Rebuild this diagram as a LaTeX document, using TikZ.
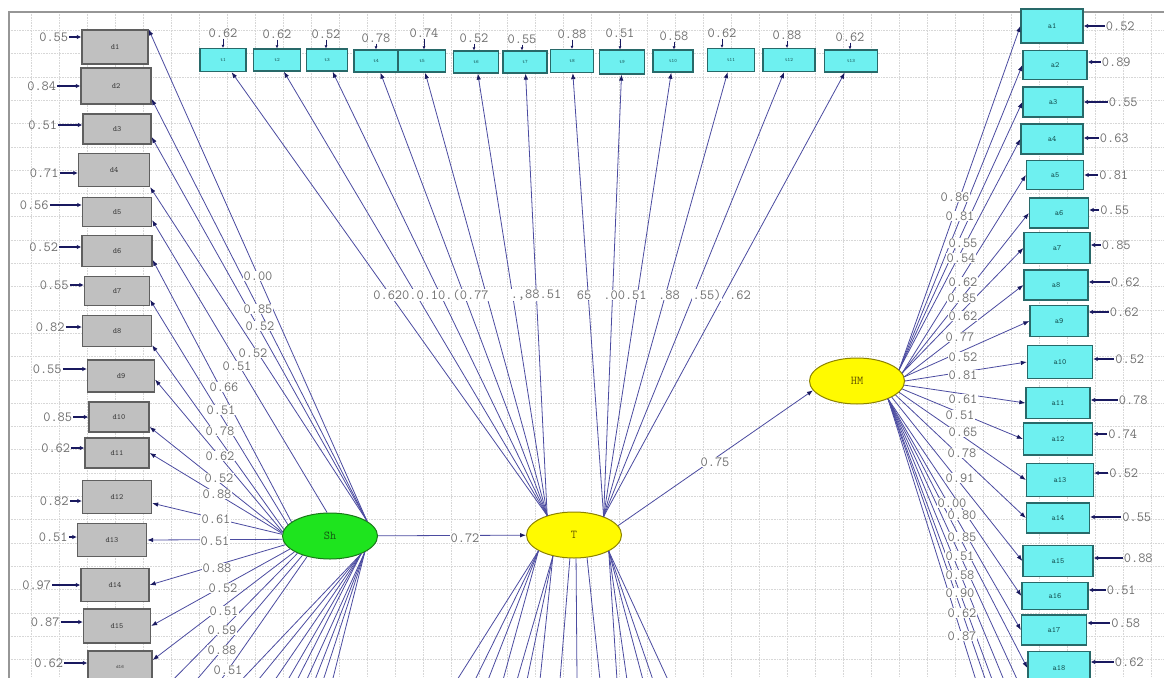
\documentclass[tikz,border=0pt]{standalone}
\usepackage{fontspec}
\usetikzlibrary{arrows.meta,shapes.geometric,calc}
\definecolor{linec}{RGB}{75,75,160}
\definecolor{arrc}{RGB}{25,25,95}
\definecolor{grayfill}{RGB}{192,192,192}
\definecolor{grayedge}{RGB}{95,95,95}
\definecolor{cyanfill}{RGB}{110,240,240}
\definecolor{cyanedge}{RGB}{40,105,105}
\definecolor{cyantext}{RGB}{20,80,80}
\definecolor{boxtext}{RGB}{60,60,60}
\definecolor{shgreen}{RGB}{30,228,30}
\definecolor{shedge}{RGB}{25,120,25}
\definecolor{shtext}{RGB}{20,90,20}
\definecolor{yel}{RGB}{255,250,0}
\definecolor{yeledge}{RGB}{140,130,0}
\definecolor{yeltext}{RGB}{100,85,0}
\definecolor{lblc}{RGB}{110,110,110}
\definecolor{gridc}{RGB}{215,215,215}
\definecolor{framec}{RGB}{150,150,150}
\newcommand\mkD[6]{\node[dbox,minimum width=#4,minimum height=#5] (#1) at (#2,#3) {#6};}
\newcommand\mkA[6]{\node[abox,minimum width=#4,minimum height=#5] (#1) at (#2,#3) {#6};}
\newcommand\mkT[6]{\node[tbox,minimum width=#4,minimum height=#5] (#1) at (#2,#3) {#6};}
\newcommand\errLft[4]{\node[lbl,anchor=east] (e#1) at ($(#1.west)+(-#3,#4)$) {#2}; \draw[errarr] (e#1) -- (e#1 -| #1.west);}
\newcommand\errRgt[4]{\node[lbl,anchor=west] (e#1) at ($(#1.east)+(#3,#4)$) {#2}; \draw[errarr] (e#1) -- (e#1 -| #1.east);}
\newcommand\errTop[3]{\node[lbl] (e#1) at (#3) {#2}; \draw[errarrs] (e#1) -- (e#1 |- #1.north);}
\tikzset{
 lbl/.style={font=\ttfamily\fontsize{14}{14}\selectfont, text=lblc, inner sep=1pt},
 lblw/.style={lbl, fill=white},
 dbox/.style={draw=grayedge, fill=grayfill, line width=1.3pt, font=\ttfamily\fontsize{8}{8}\selectfont, text=boxtext, inner sep=0pt},
 abox/.style={draw=cyanedge, fill=cyanfill, line width=1.3pt, font=\ttfamily\fontsize{8}{8}\selectfont, text=cyantext, inner sep=0pt},
 tbox/.style={abox, font=\ttfamily\fontsize{5}{5}\selectfont},
 lat/.style={ellipse, line width=1pt, inner sep=0pt, minimum width=95, minimum height=46, font=\ttfamily\fontsize{12}{12}\selectfont},
 ld/.style={draw=linec, line width=0.8pt, -{Latex[length=6pt,width=4.5pt,color=arrc]}},
 ldf/.style={draw=linec, line width=0.8pt},
 errarr/.style={draw=arrc, line width=1.4pt, -{Latex[length=4.5pt,width=4.5pt]}},
 errarrs/.style={draw=arrc, line width=1pt, -{Latex[length=3pt,width=3pt]}},
 gridl/.style={draw=gridc, line width=0.6pt, densely dotted},
}
\begin{document}
\begin{tikzpicture}[x=1pt,y=-1pt]
\useasboundingbox (0,0) rectangle (1164,677);
\clip (0,0) rectangle (1164,677);
\fill[white] (0,0) rectangle (1164,677);
% grid
\foreach \gx in {31,59,...,1163} \draw[gridl] (\gx,12) -- (\gx,677);
\foreach \gy in {30.3,53.6,...,677} \draw[gridl] (9,\gy) -- (1164,\gy);
\draw[draw=framec, line width=1.5pt] (9,680) -- (9,12) -- (1166,12);

% latent variables
\node[lat, draw=shedge, fill=shgreen, text=shtext] (Sh) at (330,536) {Sh};
\node[lat, draw=yeledge, fill=yel, text=yeltext] (T) at (574,535) {T};
\node[lat, draw=yeledge, fill=yel, text=yeltext] (HM) at (857,381) {HM};

% d boxes
\mkD{d1}{115}{47}{66}{34}{d1}
\mkD{d2}{116}{86}{70}{36}{d2}
\mkD{d3}{117}{129}{68}{30}{d3}
\mkD{d4}{114}{170}{71}{33}{d4}
\mkD{d5}{117}{212}{69}{29}{d5}
\mkD{d6}{117}{251}{70}{31}{d6}
\mkD{d7}{117}{291}{65}{29}{d7}
\mkD{d8}{117}{331}{69}{31}{d8}
\mkD{d9}{121}{376}{67}{32}{d9}
\mkD{d10}{119}{417}{60}{30}{d10}
\mkD{d11}{117}{453}{64}{30}{d11}
\mkD{d12}{117}{497}{69}{33}{d12}
\mkD{d13}{112}{540}{69}{33}{d13}
\mkD{d14}{115}{585}{68}{33}{d14}
\mkD{d15}{117}{626}{67}{34}{d15}
\mkD{d16}{120}{667}{64}{32}{\fontsize{5}{5}\selectfont d16}

% t boxes
\mkT{t1}{223}{60}{46}{23}{t1}
\mkT{t2}{277}{60}{47}{22}{t2}
\mkT{t3}{327}{60}{41}{22}{t3}
\mkT{t4}{376}{61}{44}{22}{t4}
\mkT{t5}{422}{61}{47}{22}{t5}
\mkT{t6}{476}{62}{45}{22}{t6}
\mkT{t7}{525}{62}{44}{22}{t7}
\mkT{t8}{572}{61}{43}{23}{t8}
\mkT{t9}{622}{62}{45}{24}{t9}
\mkT{t10}{673}{61}{40}{22}{t10}
\mkT{t11}{731}{60}{47}{23}{t11}
\mkT{t12}{789}{60}{52}{23}{t12}
\mkT{t13}{851}{61}{53}{22}{t13}

% a boxes
\mkA{a1}{1052}{26}{62}{34}{a1}
\mkA{a2}{1055}{65}{64}{29}{a2}
\mkA{a3}{1053}{102}{60}{30}{a3}
\mkA{a4}{1052}{139}{62}{30}{a4}
\mkA{a5}{1055}{175}{57}{29}{a5}
\mkA{a6}{1059}{213}{59}{30}{a6}
\mkA{a7}{1057}{248}{66}{31}{a7}
\mkA{a8}{1056}{285}{64}{30}{a8}
\mkA{a9}{1059}{321}{58}{31}{a9}
\mkA{a10}{1060}{362}{65}{33}{a10}
\mkA{a11}{1058}{403}{64}{31}{a11}
\mkA{a12}{1058}{439}{69}{32}{a12}
\mkA{a13}{1060}{480}{67}{33}{a13}
\mkA{a14}{1058}{518}{63}{30}{a14}
\mkA{a15}{1058}{561}{70}{31}{a15}
\mkA{a16}{1055}{596}{66}{27}{a16}
\mkA{a17}{1054}{630}{65}{30}{a17}
\mkA{a18}{1059}{668}{62}{33}{a18}

% error terms left
\errLft{d1}{0.55}{12}{-10}
\errLft{d2}{0.84}{23}{0}
\errLft{d3}{0.51}{24}{-4}
\errLft{d4}{0.71}{18}{3}
\errLft{d5}{0.56}{32}{-7}
\errLft{d6}{0.52}{22}{-4}
\errLft{d7}{0.55}{14}{-6}
\errLft{d8}{0.82}{16}{-4}
\errLft{d9}{0.55}{24}{-7}
\errLft{d10}{0.85}{15}{0}
\errLft{d11}{0.62}{13}{-5}
\errLft{d12}{0.82}{12}{4}
\errLft{d13}{0.51}{8}{-3}
\errLft{d14}{0.97}{28}{0}
\errLft{d15}{0.87}{22}{-4}
\errLft{d16}{0.62}{23}{-4}

% error terms right
\errRgt{a1}{0.52}{21}{0}
\errRgt{a2}{0.89}{13}{-3}
\errRgt{a3}{0.55}{24}{0}
\errRgt{a4}{0.63}{15}{-1}
\errRgt{a5}{0.81}{14}{0}
\errRgt{a6}{0.55}{10}{-3}
\errRgt{a7}{0.85}{10}{-3}
\errRgt{a8}{0.62}{21}{-3}
\errRgt{a9}{0.62}{20}{-9}
\errRgt{a10}{0.52}{21}{-3}
\errRgt{a11}{0.78}{27}{-3}
\errRgt{a12}{0.74}{14}{-5}
\errRgt{a13}{0.52}{14}{-7}
\errRgt{a14}{0.55}{31}{-1}
\errRgt{a15}{0.88}{29}{-3}
\errRgt{a16}{0.51}{17}{-6}
\errRgt{a17}{0.58}{23}{-7}
\errRgt{a18}{0.62}{23}{-6}

% error terms top
\errTop{t1}{0.62}{223,33}
\errTop{t2}{0.62}{277,34}
\errTop{t3}{0.52}{326,34}
\errTop{t4}{0.78}{376,38}
\errTop{t5}{0.74}{424,33}
\errTop{t6}{0.52}{474,38}
\errTop{t7}{0.55}{522,39}
\errTop{t8}{0.88}{572,34}
\errTop{t9}{0.51}{620,33}
\errTop{t10}{0.58}{674,36}
\errTop{t11}{0.62}{722,33}
\errTop{t12}{0.88}{787,35}
\errTop{t13}{0.62}{850,37}

% free ends (beyond the lower edge)
\foreach \n/\px in {s1/163,s2/188,s3/214} \coordinate (\n) at (\px,690);
\foreach \n/\px in {sb1/232,sb2/250,sb3/268,sb4/282,sb5/292,sb6/302,sb7/311,sb8/320,sb9/330} \coordinate (\n) at (\px,690);
\foreach \n/\px in {tb1/457,tb2/475,tb3/488,tb4/503,tb5/517,tb6/527,tb7/540,tb8/560,tb9/577,tb10/600,tb11/617,tb12/627,tb13/643,tb14/653,tb15/668} \coordinate (\n) at (\px,680);
\foreach \n/\px in {h1/1022,h2/1008,h3/996,h4/989,h5/979} \coordinate (\n) at (\px,690);

% Sh loadings
\draw[ld] (Sh.22) -- (d1.north east);
\draw[ld] (Sh.22) -- (d2.340);
\draw[ld] (Sh.22) -- (d3.347);
\draw[ld] (Sh.22) -- (d4.south east);
\draw[ld] (Sh.97) -- (d5.347);
\draw[ld] (Sh.160) -- (d6.346);
\draw[ld] (Sh.165) -- (d7.345);
\draw[ld] (Sh.172) -- (d8.338);
\draw[ld] (Sh.175) -- (d9.354);
\draw[ld] (Sh.176) -- (d10.342);
\draw[ld] (Sh.177) -- (d11.east);
\draw[ld] (Sh.178) -- (d12.350);
\draw[ld] (Sh.184) -- (d13.east);
\draw[ld] (Sh.191) -- (d14.east);
\draw[ld] (Sh.198) -- (d15.east);
\draw[ld] (Sh.204) -- (d16.12);
\draw[ldf] (Sh.208) -- (s1);
\draw[ldf] (Sh.215) -- (s2);
\draw[ldf] (Sh.222) -- (s3);
\foreach \n in {sb1,sb2,sb3,sb4,sb5} \draw[ldf] (Sh.330) -- (\n);
\foreach \n in {sb6,sb7,sb8,sb9} \draw[ldf] (Sh.335) -- (\n);

% T loadings
\foreach \n in {t1,t2,t3,t4,t5,t6,t7} \draw[ld] (T.144) -- (\n);
\foreach \n in {t8,t9,t10,t11,t12,t13} \draw[ld] (T.32) -- (\n);
\foreach \n in {tb1,tb2,tb3,tb4} \draw[ldf] (T.204) -- (\n);
\foreach \n in {tb5,tb6,tb7} \draw[ldf] (T.225) -- (\n);
\draw[ldf] (T.260) -- (tb8);
\draw[ldf] (T.275) -- (tb9);
\draw[ldf] (T.300) -- (tb10);
\foreach \n in {tb11,tb12,tb13,tb14,tb15} \draw[ldf] (T.335) -- (\n);

% HM loadings
\foreach \n in {a1,a2,a3,a4} \draw[ld] (HM.15) -- (\n.west);
\foreach \n in {a5,a6,a7} \draw[ld] (HM.10) -- (\n.west);
\foreach \n in {a8,a9} \draw[ld] (HM.5) -- (\n.west);
\draw[ld] (HM.0) -- (a10.west);
\draw[ld] (HM.355) -- (a11.west);
\draw[ld] (HM.350) -- (a12.west);
\draw[ld] (HM.345) -- (a13.west);
\draw[ld] (HM.340) -- (a14.west);
\draw[ld] (HM.335) -- (a15.west);
\foreach \n in {a16,a17,a18} \draw[ld] (HM.330) -- (\n.west);
\foreach \n in {h1,h2,h3,h4,h5} \draw[ldf] (HM.330) -- (\n);

% structural paths
\draw[ld] (Sh) -- (T);
\draw[ld] (T.12) -- (HM.192);

% path labels
\node[lblw] (p1) at (465,538) {0.72};
\node[lblw] (p2) at (715,462) {0.75};

% Sh loading labels
\foreach \v/\px/\py [count=\i] in {0.00/258/276,0.85/258/309,0.52/260/326,0.52/253/353,0.51/237/366,0.66/224/387,0.51/221/410,0.78/220/431,0.62/220/456,0.52/219/478,0.88/217/494,0.61/216/519,0.51/215/541,0.88/217/568,0.52/223/588,0.51/224/611,0.59/222/630,0.88/222/650,0.51/228/670}
  \node[lblw] (ls\i) at (\px,\py) {\v};

% T loading labels (overlapping row)
\node[lblw] (c1) at (431,295) {0.620.0.10.(0.77};
\node[lblw] (c2) at (536,295) {.,88.51};
\node[lblw] (c3) at (584,295) {65};
\node[lblw] (c4) at (625,295) {.00.51};
\node[lblw] (c5) at (669,295) {.88};
\node[lblw] (c6) at (707,295) {.55)};
\node[lblw] (c7) at (740,295) {.62};

% HM loading labels
\foreach \v/\px/\py [count=\i] in {0.86/955/197,0.81/960/216,0.55/963/243,0.54/961/258,0.62/963/282,0.85/962/298,0.62/963/316,0.77/960/337,0.52/963/357,0.81/963/375,0.61/963/399,0.51/960/415,0.65/963/432,0.78/962/453,0.91/960/478,0.00/952/503,0.80/962/515,0.85/962/537,0.51/960/556,0.58/960/575,0.90/960/593,0.62/962/613,0.87/962/636}
  \node[lblw] (lh\i) at (\px,\py) {\v};
\end{tikzpicture}
\end{document}
